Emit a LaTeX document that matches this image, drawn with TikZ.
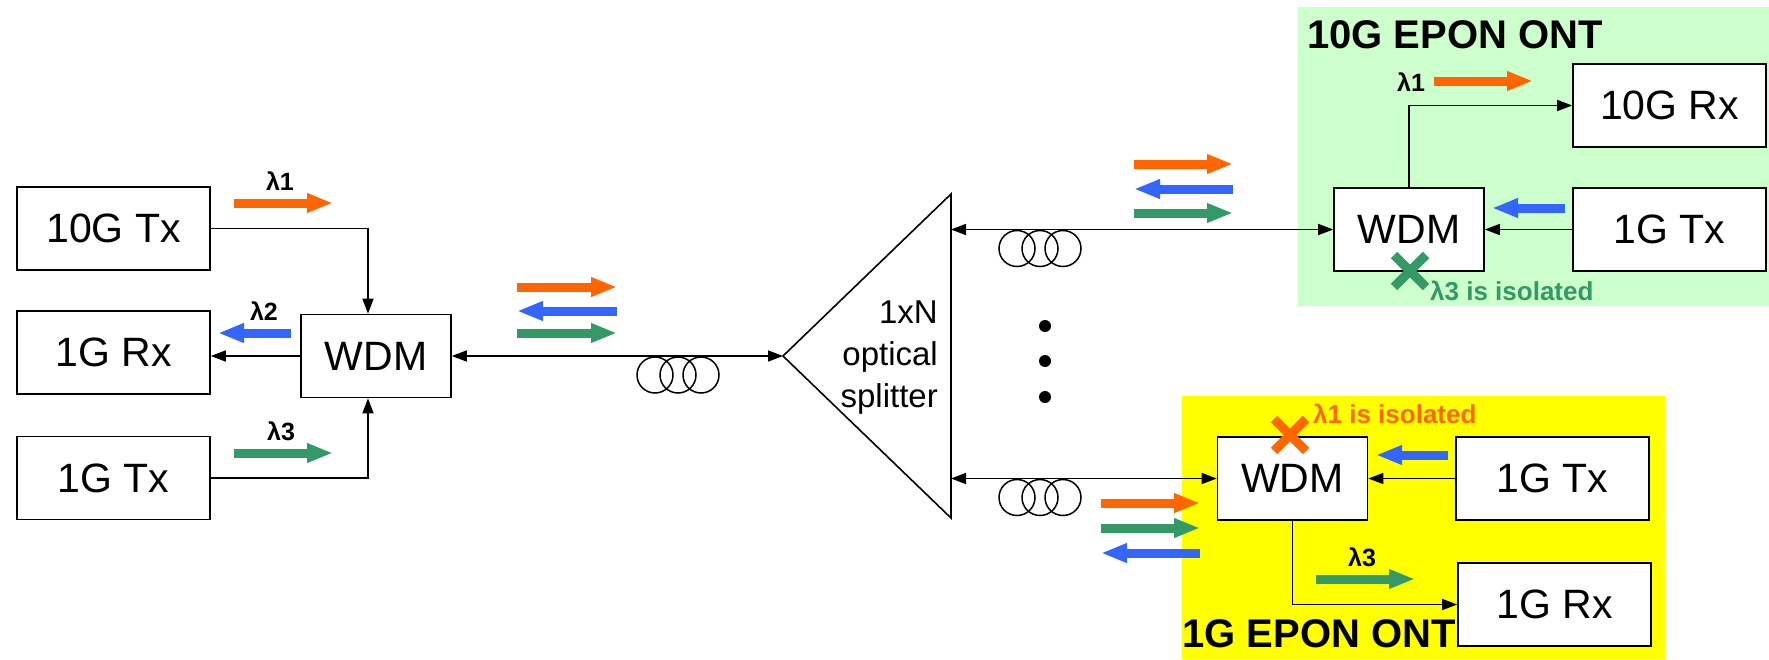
\documentclass[tikz,border=0pt]{standalone}
\usepackage{fontspec}
\setmainfont{Liberation Sans}
\usetikzlibrary{arrows.meta}
\definecolor{ora}{HTML}{FF6600}
\definecolor{blu}{HTML}{3366FF}
\definecolor{grn}{HTML}{339966}
\definecolor{ontgreen}{HTML}{CCFFCC}
\definecolor{ontyellow}{HTML}{FFFF00}

\begin{document}
\begin{tikzpicture}[x=1pt,y=-1pt,
  box/.style={draw, line width=1.6pt, fill=white, minimum width=193pt, minimum height=83pt,
              inner sep=0pt, font=\fontsize{41}{48}\selectfont},
  wdm/.style={box, minimum width=150pt},
  link/.style={line width=1.5pt, -{Triangle[length=15pt,width=11pt]}},
  fiber/.style={line width=1.6pt, {Triangle[length=15pt,width=11pt]}-{Triangle[length=15pt,width=11pt]}},
  coil/.style={line width=1.5pt},
  wave/.style={line width=9pt, -{Triangle[length=26pt,width=18pt]}},
  lam/.style={inner sep=0pt, font=\bfseries\fontsize{25}{30}\selectfont},
  title/.style={inner sep=0pt, anchor=base west, font=\bfseries\fontsize{40}{48}\selectfont},
  note/.style={inner sep=0pt, anchor=base west, font=\bfseries\fontsize{26}{30}\selectfont},
  split/.style={inner sep=0pt, anchor=base east, font=\fontsize{33}{40}\selectfont},
  cross/.style={line width=9pt},
]
\useasboundingbox (0,0) rectangle (1769,659);

% ONT backgrounds
\fill[ontgreen] (1298,7) rectangle (1769,306);
\fill[ontyellow] (1182,396) rectangle (1665,659);
\node[title] (t10) at (1307,48) {10G EPON ONT};
\node[title] (t1) at (1182,647) {1G EPON ONT};

% OLT
\node[box] (tenTx) at (113.5,228.5) {10G Tx};
\node[box] (rxL) at (113.5,352.5) {1G Rx};
\node[box] (txL) at (113.5,478) {1G Tx};
\node[wdm] (wdmL) at (376,356) {WDM};

% 10G ONT
\node[box] (tenRx) at (1669.5,105.5) {10G Rx};
\node[box] (txA) at (1669.5,229.5) {1G Tx};
\node[wdm] (wdmA) at (1409,229.5) {WDM};

% 1G ONT
\node[wdm] (wdmB) at (1292.5,478.5) {WDM};
\node[box] (txB) at (1552.5,478.5) {1G Tx};
\node[box] (rxB) at (1554.5,604.5) {1G Rx};

% splitter
\coordinate (apex) at (783,356);
\coordinate (splTop) at (951,194);
\coordinate (splBot) at (951,518);
\coordinate (portA) at (951,229.5);
\coordinate (portB) at (951,478.5);
\draw[line width=1.6pt, line join=miter] (apex) -- (splTop) -- (splBot) -- cycle;
\node[split] (splA) at (938,323) {1xN};
\node[split] (splB) at (938,365) {optical};
\node[split] (splC) at (938,407) {splitter};

% fibres with coils
\draw[fiber] (wdmL.east) -- (apex);
\draw[fiber] (portA) -- (wdmA.west);
\draw[fiber] (portB) -- (wdmB.west);
\foreach \cx in {655,678,701} \draw[coil] (\cx,375) circle[radius=18pt];
\foreach \cx in {1017,1040,1063} {
  \draw[coil] (\cx,248.5) circle[radius=18pt];
  \draw[coil] (\cx,497.5) circle[radius=18pt];
}
\foreach \dy in {326,361,397} \fill (1045,\dy) circle[radius=6pt];

% internal links
\draw[link] (tenTx.east) -| ([xshift=-8pt]wdmL.north);
\draw[link] (txL.east) -| ([xshift=-8pt]wdmL.south);
\draw[link] (wdmL.west) -- (wdmL.west -| rxL.east);
\draw[link] (wdmA.north) |- (tenRx.west);
\draw[link] (txA.west) -- (wdmA.east);
\draw[link] (txB.west) -- (wdmB.east);
\draw[link] (wdmB.south) |- (rxB.west);

% wavelength arrows
\draw[wave, ora] (234,203) -- (333,203);
\draw[wave, blu] (291,333) -- (218,333);
\draw[wave, grn] (234,453) -- (333,453);
\draw[wave, ora] (517,287) -- (617,287);
\draw[wave, blu] (617,311) -- (517,311);
\draw[wave, grn] (517,333) -- (617,333);
\draw[wave, ora] (1134,164) -- (1233,164);
\draw[wave, blu] (1233,189) -- (1134,189);
\draw[wave, grn] (1134,213) -- (1233,213);
\draw[wave, ora] (1101,503) -- (1200,503);
\draw[wave, grn] (1101,528) -- (1200,528);
\draw[wave, blu] (1200,553) -- (1101,553);
\draw[wave, ora] (1434,81) -- (1533,81);
\draw[wave, blu] (1565,208) -- (1492,208);
\draw[wave, blu] (1448,455) -- (1376,455);
\draw[wave, grn] (1316,579) -- (1415,579);

\node[lam] (l1) at (280,181) {λ1};
\node[lam] (l2) at (264,311) {λ2};
\node[lam] (l3) at (281,431) {λ3};
\node[lam] (l1a) at (1411,82) {λ1};
\node[lam] (l3b) at (1362,557) {λ3};

% blocked wavelengths
\draw[cross, grn] (1394,255) -- (1426,287) (1394,287) -- (1426,255);
\draw[cross, ora] (1274,419) -- (1306,451) (1274,451) -- (1306,419);
\node[note, text=grn] (iso3) at (1430,300) {λ3 is isolated};
\node[note, text=ora] (iso1) at (1313,423) {λ1 is isolated};
\end{tikzpicture}
\end{document}
